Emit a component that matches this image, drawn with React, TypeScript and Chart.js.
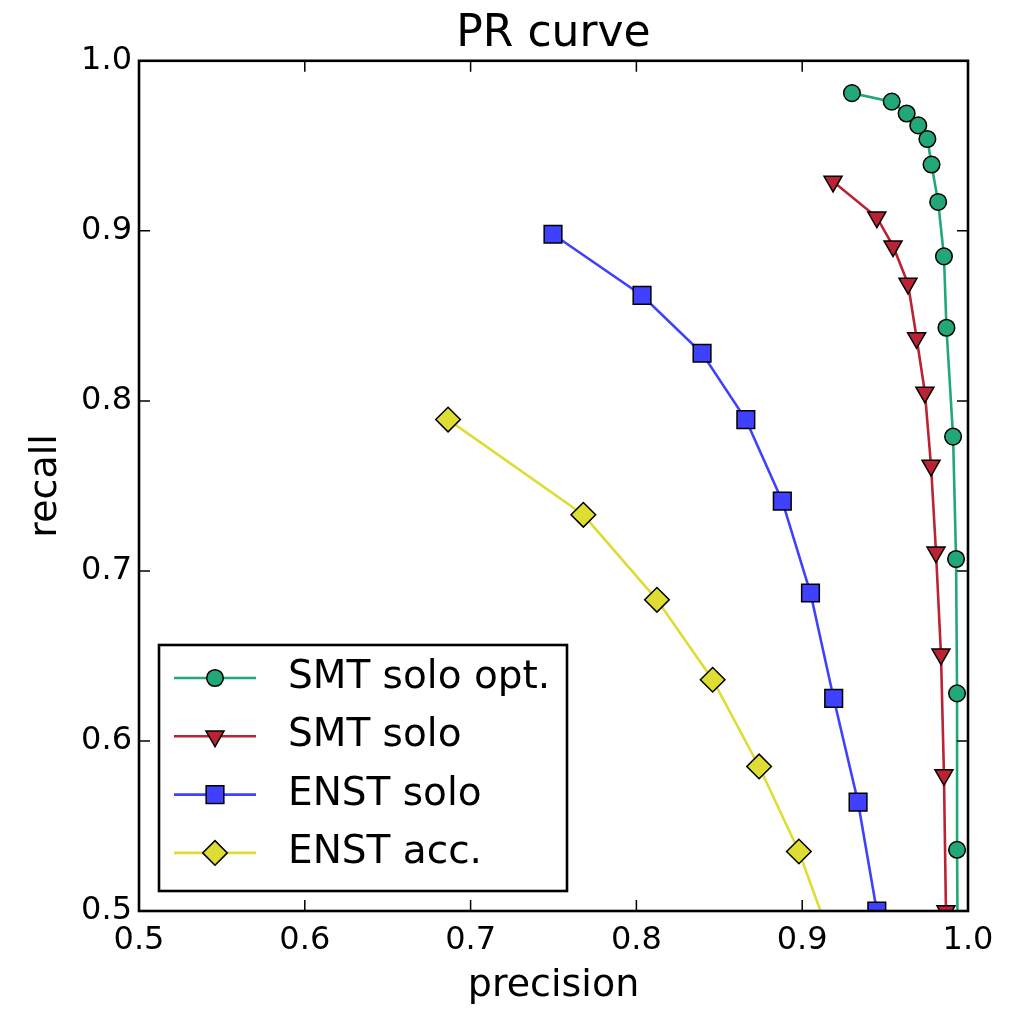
import { useEffect, useRef } from "react";
import { Chart, registerables } from "chart.js";

Chart.register(...registerables);

// ---- data ----
const seriesLabels = ["SMT solo opt.", "SMT solo", "ENST solo", "ENST acc."];

const smtSoloOptPrecision = [0.930, 0.954, 0.963, 0.970, 0.9755, 0.978, 0.982, 0.9855, 0.987, 0.991, 0.9928, 0.9934, 0.9934, 0.9940];
const smtSoloOptRecall = [0.981, 0.976, 0.969, 0.962, 0.954, 0.939, 0.917, 0.885, 0.843, 0.779, 0.707, 0.628, 0.536, 0.450];

const smtSoloPrecision = [0.9186, 0.945, 0.9548, 0.9638, 0.969, 0.974, 0.9777, 0.9807, 0.9837, 0.9855, 0.9867];
const smtSoloRecall = [0.929, 0.908, 0.891, 0.869, 0.837, 0.805, 0.762, 0.711, 0.651, 0.580, 0.500];

const enstSoloPrecision = [0.7497, 0.8034, 0.8396, 0.866, 0.888, 0.905, 0.919, 0.9337, 0.945];
const enstSoloRecall = [0.898, 0.862, 0.828, 0.789, 0.741, 0.687, 0.625, 0.564, 0.500];

const enstAccPrecision = [0.6864, 0.768, 0.8124, 0.846, 0.874, 0.898, 0.917];
const enstAccRecall = [0.789, 0.733, 0.683, 0.636, 0.585, 0.535, 0.484];

const axisMin = 0.5;
const axisMax = 1.0;
const tickStep = 0.1;

const FONT = "'DejaVu Sans', sans-serif";

function toPoints(xs: number[], ys: number[]) {
  return xs.map((x, i) => ({ x, y: ys[i] }));
}

function drawMarker(ctx: CanvasRenderingContext2D, style: string, x: number, y: number, r: number, rotation: number) {
  ctx.beginPath();
  if (style === "circle") {
    ctx.arc(x, y, r, 0, Math.PI * 2);
  } else if (style === "triangle") {
    let rad = (rotation * Math.PI) / 180;
    for (let k = 0; k < 3; k++) {
      const px = x + Math.sin(rad) * r;
      const py = y - Math.cos(rad) * r;
      if (k === 0) ctx.moveTo(px, py);
      else ctx.lineTo(px, py);
      rad += (2 * Math.PI) / 3;
    }
  } else if (style === "rect") {
    const s = r * Math.SQRT1_2;
    ctx.rect(x - s, y - s, 2 * s, 2 * s);
  } else if (style === "rectRot") {
    ctx.moveTo(x, y - r);
    ctx.lineTo(x + r, y);
    ctx.lineTo(x, y + r);
    ctx.lineTo(x - r, y);
  }
  ctx.closePath();
  ctx.fill();
  ctx.stroke();
}

export default function App() {
  const ref = useRef<HTMLCanvasElement>(null);

  useEffect(() => {
    document.body.style.margin = "0";
    const canvas = ref.current;
    if (!canvas) return;

    const frameAndLegend = {
      id: "frameAndLegend",
      afterDraw(chart: any) {
        const { ctx, chartArea: a, scales } = chart;
        ctx.save();
        // inward ticks on all four sides
        ctx.strokeStyle = "#000";
        ctx.lineWidth = 1.5;
        const tl = 11;
        ctx.beginPath();
        for (const t of scales.x.ticks) {
          const px = scales.x.getPixelForValue(t.value);
          ctx.moveTo(px, a.bottom);
          ctx.lineTo(px, a.bottom - tl);
          ctx.moveTo(px, a.top);
          ctx.lineTo(px, a.top + tl);
        }
        for (const t of scales.y.ticks) {
          const py = scales.y.getPixelForValue(t.value);
          ctx.moveTo(a.left, py);
          ctx.lineTo(a.left + tl, py);
          ctx.moveTo(a.right, py);
          ctx.lineTo(a.right - tl, py);
        }
        ctx.stroke();
        // frame
        ctx.lineWidth = 2.6;
        ctx.strokeRect(a.left, a.top, a.right - a.left, a.bottom - a.top);

        // legend (lower left)
        const boxW = 408;
        const boxH = 246;
        const bx = a.left + 20;
        const by = a.bottom - 20 - boxH;
        ctx.fillStyle = "#fff";
        ctx.fillRect(bx, by, boxW, boxH);
        ctx.lineWidth = 2.6;
        ctx.strokeStyle = "#000";
        ctx.strokeRect(bx, by, boxW, boxH);
        chart.data.datasets.forEach((ds: any, i: number) => {
          const cy = by + 33 + i * 58.3;
          ctx.strokeStyle = ds.borderColor;
          ctx.lineWidth = ds.borderWidth;
          ctx.beginPath();
          ctx.moveTo(bx + 15, cy);
          ctx.lineTo(bx + 97, cy);
          ctx.stroke();
          ctx.fillStyle = ds.pointBackgroundColor;
          ctx.strokeStyle = ds.pointBorderColor;
          ctx.lineWidth = ds.pointBorderWidth;
          drawMarker(ctx, ds.pointStyle, bx + 56, cy, ds.pointRadius, ds.rotation || 0);
          ctx.fillStyle = "#000";
          ctx.font = `39px ${FONT}`;
          ctx.textBaseline = "middle";
          ctx.textAlign = "left";
          ctx.fillText(ds.label, bx + 129, cy);
        });
        ctx.restore();
      },
    };

    const clip = { left: 0, top: 0, right: 0, bottom: 0 };
    const common = {
      showLine: true,
      tension: 0,
      borderWidth: 2.6,
      pointBorderColor: "#000",
      pointBorderWidth: 1.5,
      clip,
    };

    const chart = new Chart(canvas, {
      type: "scatter",
      data: {
        datasets: [
          {
            ...common,
            label: seriesLabels[0],
            data: toPoints(smtSoloOptPrecision, smtSoloOptRecall),
            borderColor: "#22a877",
            backgroundColor: "#22a877",
            pointBackgroundColor: "#22a877",
            pointStyle: "circle",
            pointRadius: 8.3,
          },
          {
            ...common,
            label: seriesLabels[1],
            data: toPoints(smtSoloPrecision, smtSoloRecall),
            borderColor: "#bb2233",
            backgroundColor: "#bb2233",
            pointBackgroundColor: "#bb2233",
            pointStyle: "triangle",
            rotation: 180,
            pointRotation: 180,
            pointRadius: 10.4,
          },
          {
            ...common,
            label: seriesLabels[2],
            data: toPoints(enstSoloPrecision, enstSoloRecall),
            borderColor: "#4040ff",
            backgroundColor: "#4040ff",
            pointBackgroundColor: "#4040ff",
            pointStyle: "rect",
            pointRadius: 12.5,
          },
          {
            ...common,
            label: seriesLabels[3],
            data: toPoints(enstAccPrecision, enstAccRecall),
            borderColor: "#dddd33",
            backgroundColor: "#dddd33",
            pointBackgroundColor: "#dddd33",
            pointStyle: "rectRot",
            pointRadius: 12.3,
          },
        ] as any,
      },
      options: {
        responsive: false,
        animation: false,
        events: [],
        layout: { padding: { left: 0, right: 41, top: 0, bottom: 0 } },
        plugins: {
          legend: { display: false },
          tooltip: { enabled: false },
          title: {
            display: true,
            fullSize: false,
            text: "PR curve",
            color: "#000",
            font: { family: FONT, size: 44, weight: "normal", lineHeight: 1.2 },
            padding: { top: 8, bottom: 0 },
          },
        },
        scales: {
          x: {
            type: "linear",
            min: axisMin,
            max: axisMax,
            grid: { display: false, drawTicks: false },
            border: { display: false },
            ticks: {
              stepSize: tickStep,
              autoSkip: false,
              maxRotation: 0,
              padding: 10,
              color: "#000",
              font: { family: FONT, size: 32 },
              callback: (v: any) => Number(v).toFixed(1),
            },
            title: {
              display: true,
              text: "precision",
              color: "#000",
              font: { family: FONT, size: 38, lineHeight: 1.2 },
              padding: { top: 0, bottom: 0 },
            },
            afterFit: (scale: any) => {
              scale.height = 98;
            },
          },
          y: {
            type: "linear",
            min: axisMin,
            max: axisMax,
            grid: { display: false, drawTicks: false },
            border: { display: false },
            ticks: {
              stepSize: tickStep,
              autoSkip: false,
              padding: 7,
              color: "#000",
              font: { family: FONT, size: 32 },
              callback: (v: any) => Number(v).toFixed(1),
            },
            title: {
              display: true,
              text: "recall",
              color: "#000",
              font: { family: FONT, size: 38, lineHeight: 1.2 },
              padding: { top: 23, bottom: 0 },
            },
            afterFit: (scale: any) => {
              scale.width = 139;
            },
          },
        },
      },
      plugins: [frameAndLegend],
    } as any);

    return () => chart.destroy();
  }, []);

  return (
    <div style={{ width: 1009, height: 1009, background: "#fff" }}>
      <canvas ref={ref} width={1009} height={1009} style={{ display: "block" }} />
    </div>
  );
}
